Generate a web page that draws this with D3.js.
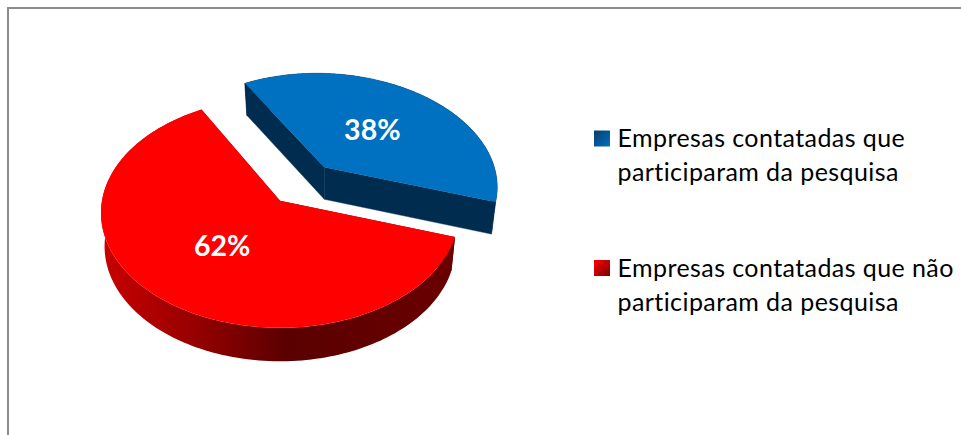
<!DOCTYPE html>
<html lang="pt">
<head>
<meta charset="utf-8">
<title>Empresas contatadas</title>
<script src="https://cdn.jsdelivr.net/npm/d3@7"></script>
<style>
  html, body { margin: 0; padding: 0; background: #fff; }
  svg { display: block; }
  text { font-family: Lato, "Open Sans", sans-serif; }
</style>
</head>
<body>
<svg id="chart" width="961" height="435"></svg>
<script>
// Share of contacted companies, in percent
const categories = ["Empresas contatadas que participaram da pesquisa",
                    "Empresas contatadas que não participaram da pesquisa"];
const shares = [38, 62];
const legendLines = [["Empresas contatadas que", "participaram da pesquisa"],
                     ["Empresas contatadas que não", "participaram da pesquisa"]];
const faceColors = ["#0070c0", "#ff0000"];

const W = 961, H = 435;
const svg = d3.select("#chart");
const defs = svg.append("defs");

// Frame: only the top and left edges are visible in the window
svg.append("path")
  .attr("d", `M8,${H}V8H${W}`)
  .attr("fill", "none")
  .attr("stroke", "#8c8c8c")
  .attr("stroke-width", 2);

// Wall shading for the large slice
const redWall = defs.append("linearGradient")
  .attr("id", "redWall").attr("gradientUnits", "userSpaceOnUse")
  .attr("x1", 104).attr("x2", 455).attr("y1", 0).attr("y2", 0);
[[0, "#c80000"], [0.27, "#940000"], [0.52, "#5a0000"], [1, "#6a0000"]]
  .forEach(([o, c]) => redWall.append("stop").attr("offset", o).attr("stop-color", c));

// Legend swatch shading
const swatchStops = [["#0a3d69", "#0070c0"], ["#ff0000", "#7a0000"]];
swatchStops.forEach((s, i) => {
  const g = defs.append("linearGradient").attr("id", `swatch${i}`)
    .attr("x1", 0).attr("y1", 0).attr("x2", 1).attr("y2", 1);
  g.append("stop").attr("offset", 0).attr("stop-color", s[0]);
  g.append("stop").attr("offset", 1).attr("stop-color", s[1]);
});

// Pie layout: the blue slice starts just left of north and runs clockwise
const startDeg = -30;
const pie = d3.pie().sort(null).value(d => d)
  .startAngle(startDeg * Math.PI / 180)
  .endAngle((startDeg + 360) * Math.PI / 180);
const arcs = pie(shares);

// Tilted-disc view of each slice: apex on screen, radii, perspective strength,
// a small in-plane turn and the shear of the viewing direction
const views = [
  { ax: 324.3, ay: 167.3, rx: 170.8, ry: 106.7, k: 0.135, depth: 32, shrink: 0.975,
    turn: 0, shearX: 0.036, shearY: 0.016 },
  { ax: 280, ay: 200.7, rx: 178, ry: 113.6, k: 0.106, depth: 33.5, shrink: 0.98,
    turn: 1.2 * Math.PI / 180, shearX: 0, shearY: 0 }
];

function project(view, angle, r, lower) {
  const u = r * Math.sin(angle + view.turn), v = r * Math.cos(angle + view.turn);
  const w = 1 + view.k * v;
  const dx = view.rx * u / w, dy = -view.ry * v / w;
  const sx = lower ? view.shrink : 1;
  return [view.ax + sx * (dx + view.shearX * dy),
          view.ay + (lower ? view.depth : 0) + dy + view.shearY * dx];
}

function rim(view, a, lower) {
  const n = 160;
  return d3.range(n + 1).map(i =>
    project(view, a.startAngle + (a.endAngle - a.startAngle) * i / n, 1, lower));
}

const line = d3.line();
const closed = pts => line(pts) + "Z";

arcs.forEach((a, i) => {
  const view = views[i];
  const g = svg.append("g").attr("class", `slice slice-${i}`);
  const apex = project(view, 0, 0, false);
  const apexLow = project(view, 0, 0, true);
  const top = rim(view, a, false);
  const low = rim(view, a, true);
  const last = top.length - 1;
  const wallFill = i === 0 ? "#002c4f" : "url(#redWall)";

  // Outer wall and the two cut walls, hairline-stroked so the joins stay closed
  [top.concat(low.slice().reverse()),
   [apex, top[0], low[0], apexLow],
   [apex, top[last], low[last], apexLow]].forEach(outline => {
    g.append("path")
      .attr("d", closed(outline))
      .attr("fill", wallFill)
      .attr("stroke", i === 0 ? "#002c4f" : "none")
      .attr("stroke-width", 0.4);
  });
  // Upper face
  g.append("path").attr("d", closed([apex].concat(top))).attr("fill", faceColors[i]);
});

// Percentage labels, placed along each slice's mid-angle
arcs.forEach((a, i) => {
  const [x, y] = project(views[i], (a.startAngle + a.endAngle) / 2, 0.49, false);
  svg.append("text")
    .attr("x", x).attr("y", y + 10.5)
    .attr("text-anchor", "middle")
    .attr("fill", "#fff")
    .attr("font-weight", 700)
    .attr("font-size", 28.5)
    .text(`${shares[i]}%`);
});

// Legend
const legendRow = d3.scalePoint().domain(categories).range([130.5, 260]);
const legend = svg.append("g").attr("class", "legend");
categories.forEach((c, i) => {
  const y0 = legendRow(c);
  legend.append("rect")
    .attr("x", 594).attr("y", y0).attr("width", 16).attr("height", 16)
    .attr("fill", `url(#swatch${i})`);
  legendLines[i].forEach((t, j) => {
    legend.append("text")
      .attr("x", 617.5).attr("y", y0 + 16.5 + j * 34)
      .attr("font-size", 25)
      .attr("letter-spacing", 0.42)
      .attr("fill", "#000")
      .text(t);
  });
});
</script>
</body>
</html>
